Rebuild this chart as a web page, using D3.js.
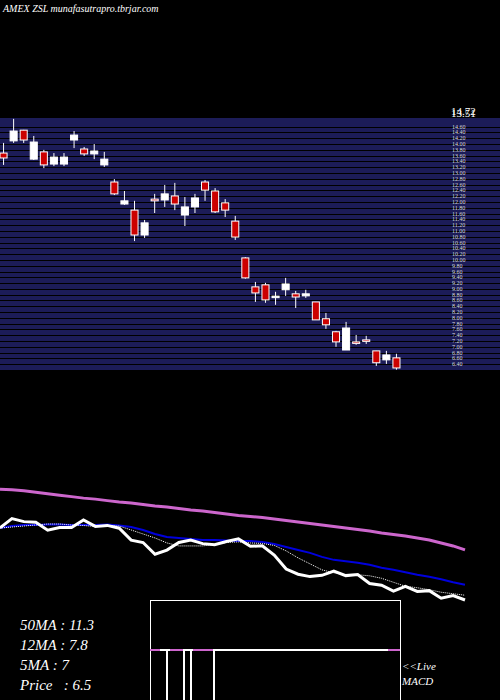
<!DOCTYPE html>
<html><head><meta charset="utf-8">
<script src="https://cdn.jsdelivr.net/npm/d3@7"></script>
<style>body{margin:0;background:#000}svg{display:block}</style>
</head><body><div id="chart"></div>
<script>
// candles: open, close, high, low
var opens  = [13.69,14.11,14.48,13.48,13.73,13.31,13.31,14.14,13.83,13.66,13.28,12.69,11.93,11.72,10.86,12.10,12.07,12.21,11.55,11.83,12.69,12.38,11.97,11.34,10.07,9.07,9.14,8.72,8.97,8.83,8.76,8.55,7.97,7.52,6.89,7.17,7.24,6.86,6.55,6.62];
var closes = [13.52,14.45,14.14,14.07,13.28,13.55,13.55,14.31,13.66,13.76,13.48,12.28,12.04,10.86,11.28,12.04,12.28,11.93,11.83,12.14,12.41,11.66,11.72,10.79,9.38,8.86,8.62,8.75,9.17,8.72,8.83,7.93,7.76,7.17,7.65,7.13,7.21,6.45,6.72,6.27];
var highs  = [14.04,14.87,14.49,14.28,13.80,13.69,13.69,14.45,13.90,14.00,13.73,12.79,12.38,12.04,11.38,12.28,12.59,12.66,12.17,12.28,12.76,12.48,12.10,11.52,10.10,9.24,9.21,8.90,9.38,8.93,8.97,8.55,8.17,7.55,7.86,7.41,7.38,6.86,6.86,6.76];
var lows   = [13.28,14.04,14.04,13.45,13.17,13.24,13.24,13.86,13.59,13.48,13.21,12.24,11.90,10.65,10.76,11.62,11.83,11.72,11.17,11.62,12.04,11.62,11.48,10.69,9.35,8.55,8.52,8.45,8.76,8.34,8.69,7.93,7.62,7.00,6.89,7.07,7.10,6.34,6.41,6.21];
var ma50 = [17.4,17.35,17.25,17.1,16.95,16.8,16.65,16.5,16.4,16.25,16.1,16.0,15.85,15.7,15.6,15.45,15.3,15.2,15.05,14.9,14.75,14.65,14.55,14.4,14.25,14.1,13.95,13.8,13.65,13.5,13.35,13.2,13.0,12.85,12.7,12.5,12.3,12.0,11.7,11.3];
var ma12 = [13.5,13.7,13.8,13.8,13.85,13.85,13.8,13.8,13.8,13.85,13.75,13.6,13.3,12.9,12.6,12.5,12.4,12.3,12.3,12.25,12.2,12.2,12.1,11.9,11.6,11.3,11.0,10.6,10.3,10.15,10.0,9.8,9.5,9.3,9.05,8.8,8.6,8.35,8.05,7.8];
var ma5  = [13.5,13.6,13.7,13.8,13.9,13.9,13.8,13.75,13.65,13.75,13.7,13.3,12.9,12.5,12.0,11.7,11.7,11.7,11.85,12.05,12.1,12.0,11.95,11.75,11.2,10.5,9.9,9.3,9.0,8.8,8.8,8.7,8.45,8.05,7.65,7.5,7.3,7.05,6.9,6.75];
var gridLevels = [6.4,6.6,6.8,7.0,7.2,7.4,7.6,7.8,8.0,8.2,8.4,8.6,8.8,9.0,9.2,9.4,9.6,9.8,10.0,10.2,10.4,10.6,10.8,11.0,11.2,11.4,11.6,11.8,12.0,12.2,12.4,12.6,12.8,13.0,13.2,13.4,13.6,13.8,14.0,14.2,14.4,14.6];
// macd strip: flat line, with segments coloured pink and drop lines
var macdPink = [[150,160],[170,183],[193,213],[388,400]];
var macdDrops = [167,184,191,214];
var labels = ["50MA : 11.3","12MA : 7.8","5MA : 7","Price   : 6.5"];

var W = 500, H = 700;
var svg = d3.select("#chart").append("svg").attr("width", W).attr("height", H);
svg.append("rect").attr("width", W).attr("height", H).attr("fill", "#000");

var idx = d3.range(opens.length);
var x = d3.scaleBand().domain(idx).range([-3, 403]).padding(0.3);
var y = d3.scaleLinear().domain([6.2, 14.9]).range([370, 118]);

svg.append("rect").attr("x", 0).attr("y", 118).attr("width", W).attr("height", 252).attr("fill", "#1c1c58");
svg.selectAll(".grid").data(gridLevels).enter().append("line")
  .attr("x1", 0).attr("x2", W).attr("y1", function(d){return Math.round(y(d))+0.5}).attr("y2", function(d){return Math.round(y(d))+0.5})
  .attr("stroke", "#000").attr("stroke-width", 1);
svg.selectAll(".glab").data(gridLevels).enter().append("text")
  .attr("x", 452).attr("y", function(d){return y(d)+2}).attr("fill", "#ddd")
  .attr("font-family", "Liberation Serif").attr("font-size", 6).text(function(d){return d.toFixed(2)});
svg.append("text").attr("x", 451).attr("y", 115).attr("fill", "#fff").attr("font-family", "Liberation Serif").attr("font-size", 11).text("14.72");
svg.append("text").attr("x", 451).attr("y", 117).attr("fill", "#fff").attr("font-family", "Liberation Serif").attr("font-size", 11).text("13.51");

var c = svg.selectAll(".candle").data(idx).enter().append("g");
c.append("line")
  .attr("x1", function(i){return x(i)+x.bandwidth()/2}).attr("x2", function(i){return x(i)+x.bandwidth()/2})
  .attr("y1", function(i){return y(highs[i])}).attr("y2", function(i){return y(lows[i])})
  .attr("stroke", "#fff").attr("stroke-width", 1);
c.append("rect")
  .attr("x", function(i){return x(i)}).attr("width", x.bandwidth())
  .attr("y", function(i){return y(Math.max(opens[i], closes[i]))})
  .attr("height", function(i){return Math.max(1.5, Math.abs(y(opens[i]) - y(closes[i])))})
  .attr("fill", function(i){return closes[i] >= opens[i] ? "#fff" : "#cc0000"})
  .attr("stroke", "#fff").attr("stroke-width", 1);

// moving averages panel
var x2 = d3.scaleLinear().domain([0, opens.length-1]).range([0, 465]);
var y2 = d3.scaleLinear().domain([6.27, 13.5]).range([600, 528]);
var line = d3.line().x(function(d, i){return x2(i)}).y(function(d){return y2(d)});
svg.append("path").datum(ma50).attr("d", line).attr("fill", "none").attr("stroke", "#cc66cc").attr("stroke-width", 3);
svg.append("path").datum(ma12).attr("d", line).attr("fill", "none").attr("stroke", "#0000dd").attr("stroke-width", 2);
svg.append("path").datum(ma5).attr("d", line).attr("fill", "none").attr("stroke", "#fff").attr("stroke-width", 1).attr("stroke-dasharray", "1,1");
svg.append("path").datum(closes).attr("d", line).attr("fill", "none").attr("stroke", "#fff").attr("stroke-width", 3);

// macd box
svg.append("rect").attr("x", 150.5).attr("y", 600.5).attr("width", 250).attr("height", 110).attr("fill", "none").attr("stroke", "#fff");
svg.append("line").attr("x1", 150).attr("x2", 400).attr("y1", 650).attr("y2", 650).attr("stroke", "#fff").attr("stroke-width", 2);
svg.selectAll(".mp").data(macdPink).enter().append("line")
  .attr("x1", function(d){return d[0]}).attr("x2", function(d){return d[1]}).attr("y1", 650).attr("y2", 650)
  .attr("stroke", "#cc66cc").attr("stroke-width", 2);
svg.selectAll(".md").data(macdDrops).enter().append("line")
  .attr("x1", function(d){return d}).attr("x2", function(d){return d}).attr("y1", 650).attr("y2", 700)
  .attr("stroke", "#fff").attr("stroke-width", 2);

// texts
svg.append("text").attr("x", 3).attr("y", 12).attr("fill", "#fff").attr("font-family", "Liberation Serif").attr("font-size", 10).attr("font-style", "italic")
  .text("AMEX ZSL munafasutrapro.tbrjar.com");
svg.selectAll(".lab").data(labels).enter().append("text")
  .attr("x", 20).attr("y", function(d, i){return 630 + i*20}).attr("fill", "#fff")
  .attr("font-family", "Liberation Serif").attr("font-style", "italic").attr("font-size", 15)
  .attr("xml:space", "preserve").style("white-space", "pre").text(function(d){return d});
svg.append("text").attr("x", 402).attr("y", 670).attr("fill", "#fff").attr("font-family", "Liberation Serif").attr("font-style", "italic").attr("font-size", 11).text("<<Live");
svg.append("text").attr("x", 402).attr("y", 685).attr("fill", "#fff").attr("font-family", "Liberation Serif").attr("font-style", "italic").attr("font-size", 11).text("MACD");
</script></body></html>
